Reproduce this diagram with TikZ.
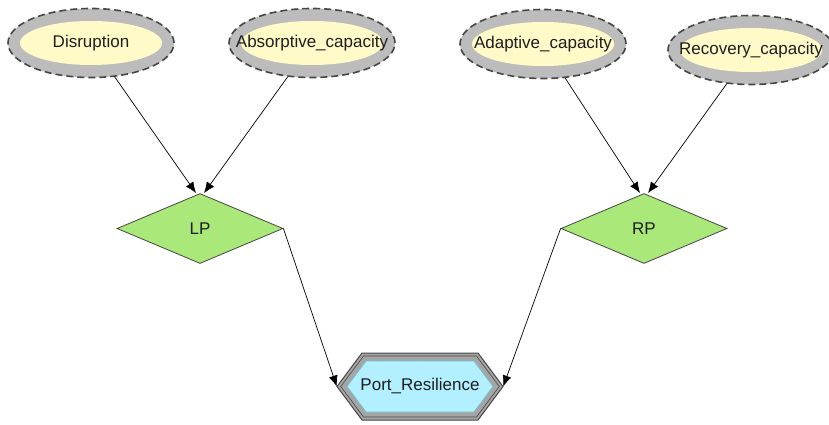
\documentclass[tikz,border=0pt]{standalone}
\usepackage{fontspec}
\setmainfont{Liberation Sans}
\usetikzlibrary{shapes.geometric,arrows.meta}
\definecolor{ringgray}{RGB}{188,188,188}
\definecolor{dashgray}{RGB}{70,70,70}
\definecolor{yfill}{RGB}{255,250,200}
\definecolor{gfill}{RGB}{170,232,122}
\definecolor{cfill}{RGB}{178,240,255}
\definecolor{cline}{RGB}{120,190,205}
\definecolor{hexgray}{RGB}{165,165,165}
\definecolor{txt}{RGB}{30,30,30}
\newcommand\hexp[1]{(-83+1.25*#1,0) -- (-58+0.5*#1,-33.5+#1) -- (58-0.5*#1,-33.5+#1) -- (83-1.25*#1,0) -- (58-0.5*#1,33.5-#1) -- (-58+0.5*#1,33.5-#1) -- cycle}
\tikzset{
  chance/.style={ellipse, minimum width=166pt, minimum height=69pt, inner sep=0pt,
    fill=ringgray, draw=dashgray, dash pattern=on 7pt off 4pt, line width=1.6pt,
    text=txt, font=\fontsize{17}{20}\selectfont,
    path picture={\fill[yfill] (path picture bounding box.center) ellipse (71pt and 22pt);}},
  decide/.style={diamond, minimum width=166pt, minimum height=70pt, inner sep=0pt,
    fill=gfill, draw=dashgray, line width=0.8pt, text=txt, font=\fontsize{17}{20}\selectfont},
  link/.style={draw=black, line width=0.7pt, -{Latex[length=11pt,width=9pt]}},
}
\begin{document}
\begin{tikzpicture}[x=1pt,y=-1pt]
\useasboundingbox (0,0) rectangle (829,425);
\node[chance] (dis) at (91,43) {\makebox[0pt]{Disruption}};
\node[chance] (abs) at (312,43) {\makebox[0pt]{Absorptive\_capacity}};
\node[chance] (ada) at (543,44) {\makebox[0pt]{Adaptive\_capacity}};
\node[chance] (rec) at (751,50) {\makebox[0pt]{Recovery\_capacity}};
\node[decide] (lp) at (200,228.5) {LP};
\node[decide] (rp) at (644,228.5) {RP};
\node[minimum width=166pt, minimum height=67pt, inner sep=0pt] (pr) at (420,386.5) {};
\begin{scope}[shift={(pr.center)}]
  \filldraw[fill=hexgray, draw=dashgray, line width=1pt] \hexp{0};
  \draw[dashgray, line width=0.6pt] \hexp{3};
  \filldraw[fill=cfill, draw=cline, line width=0.8pt] \hexp{8};
\end{scope}
\node[text=txt, font=\fontsize{17}{20}\selectfont] at (pr.center) {Port\_Resilience};
\draw[link] (dis) -- ([xshift=-4pt]lp.north);
\draw[link] (abs) -- ([xshift=4pt]lp.north);
\draw[link] (ada) -- ([xshift=-4pt]rp.north);
\draw[link] (rec) -- ([xshift=4pt]rp.north);
\draw[link] (lp.east) -- (pr.west);
\draw[link] (rp.west) -- (pr.east);
\end{tikzpicture}
\end{document}
